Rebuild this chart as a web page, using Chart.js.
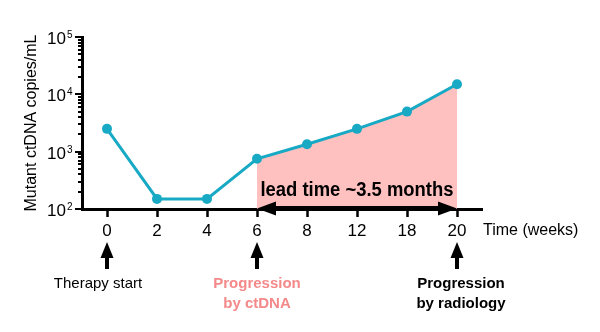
<!DOCTYPE html>
<html><head><meta charset="utf-8">
<script src="https://cdn.jsdelivr.net/npm/chart.js@4.4.0/dist/chart.umd.min.js"></script>
<style>html,body{margin:0;padding:0;background:#fff;}#wrap{width:600px;height:332px;position:relative}</style>
</head><body><div id="wrap"><canvas id="c" width="600" height="332"></canvas></div>
<script>
// ---- data ----
const weeks = ['0', '2', '4', '6', '8', '12', '18', '20'];
const copiesPerML = [2500, 150, 150, 750, 1350, 2500, 5000, 15000];
const yMajorTicks = [100, 1000, 10000, 100000];
const yTickBase = '10';
const yTickExponents = ['2', '3', '4', '5'];
const leadStartWeek = '6';
const leadEndWeek = '20';
const leadLabel = 'lead time ~3.5 months';
const xTitle = 'Time (weeks)';
const yTitle = 'Mutant ctDNA copies/mL';
const eventWeeks = ['0', '6', '20'];
const eventLabels = [['Therapy start'], ['Progression', 'by ctDNA'], ['Progression', 'by radiology']];

// ---- styles ----
const FONT = '"Liberation Sans", Arial, Helvetica, sans-serif';
const LINE = '#18a9c5';
const FILL = '#ffc0c0';
const PINK = '#f4898a';
const eventStyles = [
  {color: '#000', bold: false, dx: -9},
  {color: PINK, bold: true, dx: 0},
  {color: '#000', bold: true, dx: 4}
];

const leadIdx = weeks.indexOf(leadStartWeek);
const leadEndIdx = weeks.indexOf(leadEndWeek);
const leadSeries = copiesPerML.map((v, i) => (i >= leadIdx && i <= leadEndIdx) ? v : null);

const annot = {
  id: 'annot',
  afterDraw(chart) {
    const ctx = chart.ctx, xs = chart.scales.x, ys = chart.scales.y, ca = chart.chartArea;
    const ax = ca.left, ay = ca.bottom;
    ctx.save();
    // y ticks (major + minor)
    ctx.strokeStyle = '#000';
    ctx.lineWidth = 2;
    yMajorTicks.forEach((t, k) => {
      const py = Math.round(ys.getPixelForValue(t));
      ctx.beginPath(); ctx.moveTo(ax - 7, py); ctx.lineTo(ax, py); ctx.stroke();
      if (k < yMajorTicks.length - 1) {
        for (let m = 2; m <= 9; m++) {
          const pm = Math.round(ys.getPixelForValue(t * m));
          ctx.beginPath(); ctx.moveTo(ax - 4, pm); ctx.lineTo(ax, pm); ctx.stroke();
        }
      }
      ctx.fillStyle = '#000';
      ctx.textBaseline = 'alphabetic';
      ctx.font = '17px ' + FONT;
      ctx.textAlign = 'right';
      ctx.fillText(yTickBase, ax - 16, py + 7);
      ctx.font = '10px ' + FONT;
      ctx.textAlign = 'left';
      ctx.fillText(yTickExponents[k], ax - 15, py + 0.5);
    });
    // x title
    ctx.font = '16px ' + FONT;
    ctx.textAlign = 'left';
    ctx.fillStyle = '#000';
    ctx.fillText(xTitle, ca.right + 1, 235);
    // lead time double arrow
    const x1 = xs.getPixelForValue(leadIdx), x2 = xs.getPixelForValue(leadEndIdx);
    const yA = ay - 0.5;
    ctx.fillStyle = '#000';
    ctx.fillRect(x1 + 10, yA - 2.5, (x2 - x1) - 20, 5);
    ctx.beginPath(); ctx.moveTo(x1, yA); ctx.lineTo(x1 + 19, yA - 7); ctx.lineTo(x1 + 19, yA + 7); ctx.closePath(); ctx.fill();
    ctx.beginPath(); ctx.moveTo(x2, yA); ctx.lineTo(x2 - 19, yA - 7); ctx.lineTo(x2 - 19, yA + 7); ctx.closePath(); ctx.fill();
    ctx.font = 'bold 20px ' + FONT;
    ctx.textAlign = 'center';
    ctx.fillText(leadLabel, (x1 + x2) / 2, 196, 193);
    // event arrows + labels
    eventWeeks.forEach((w, k) => {
      const px = xs.getPixelForValue(weeks.indexOf(w));
      const st = eventStyles[k];
      ctx.fillStyle = '#000';
      ctx.beginPath(); ctx.moveTo(px, 242); ctx.lineTo(px - 6.5, 258); ctx.lineTo(px + 6.5, 258); ctx.closePath(); ctx.fill();
      ctx.fillRect(px - 2, 257, 4, 12);
      ctx.fillStyle = st.color;
      ctx.font = (st.bold ? 'bold ' : '') + '15px ' + FONT;
      ctx.textAlign = 'center';
      eventLabels[k].forEach((line, j) => ctx.fillText(line, px + st.dx, 288 + j * 20));
    });
    ctx.restore();
  }
};

new Chart(document.getElementById('c'), {
  type: 'line',
  data: {
    labels: weeks,
    datasets: [
      {data: leadSeries, fill: 'start', backgroundColor: FILL, borderWidth: 0, pointRadius: 0, order: 2, spanGaps: false},
      {data: copiesPerML, borderColor: LINE, backgroundColor: LINE, borderWidth: 3, pointRadius: 5, pointHoverRadius: 5, pointBorderWidth: 0, fill: false, tension: 0, order: 1}
    ]
  },
  options: {
    responsive: false, animation: false, devicePixelRatio: 1,
    layout: {padding: {left: 0, top: 37, right: 118, bottom: 0}},
    plugins: {legend: {display: false}, tooltip: {enabled: false}},
    scales: {
      x: {
        type: 'category', offset: true,
        grid: {display: true, drawOnChartArea: false, offset: false, tickLength: 8, tickWidth: 2.5, tickColor: '#000'},
        border: {display: true, color: '#000', width: 3},
        ticks: {font: {family: FONT, size: 17}, color: '#000', padding: 4, maxRotation: 0, autoSkip: false},
        afterFit: s => { s.height = 123; }
      },
      y: {
        type: 'logarithmic', min: 100, max: 100000,
        grid: {display: true, drawOnChartArea: false, drawTicks: false},
        border: {display: true, color: '#000', width: 3},
        ticks: {display: false},
        title: {display: true, text: yTitle, color: '#000', font: {family: FONT, size: 16}, padding: {top: 22, bottom: 0}},
        afterFit: s => { s.width = 82; }
      }
    }
  },
  plugins: [annot]
});
</script></body></html>
